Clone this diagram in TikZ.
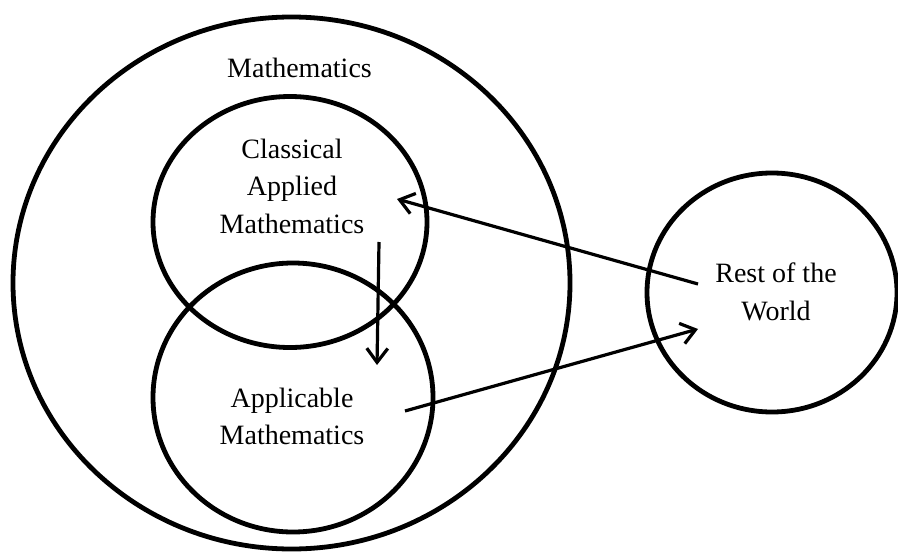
\documentclass[tikz,border=0pt]{standalone}
\usepackage{fontspec}
\setmainfont{Liberation Serif}
\usetikzlibrary{shapes.geometric,arrows.meta}
\begin{document}
\begin{tikzpicture}[x=0.5pt,y=-0.5pt,
  region/.style={draw,ellipse,line width=2.4pt,inner sep=0pt,outer sep=0pt},
  label/.style={align=center,inner sep=0pt,font=\fontsize{14}{18.75}\selectfont},
  flow/.style={line width=1.6pt,-{Straight Barb[length=7pt,width=10.5pt,line width=1.6pt]}}]
\useasboundingbox (0,0) rectangle (898,551);
\node[region,minimum width=278.5pt,minimum height=266pt] (math) at (291.5,283) {};
\node[region,minimum width=137pt,minimum height=125.5pt] (classical) at (290,222) {};
\node[region,minimum width=140pt,minimum height=134.5pt] (applicable) at (293,397.5) {};
\node[region,minimum width=125pt,minimum height=119.5pt] (world) at (772,292.5) {};
\node[label,anchor=base] (mathlbl) at (299.5,77) {Mathematics};
\node[label] (classlbl) at (292,186) {Classical\\Applied\\Mathematics};
\node[label] (applbl) at (292,416.5) {Applicable\\Mathematics};
\node[label] (worldlbl) at (776,292) {Rest of the\\World};
\coordinate (w1) at (698,284);
\coordinate (c1) at (397,199);
\coordinate (a1) at (405,411);
\coordinate (w2) at (698,329);
\coordinate (c2) at (379,242);
\coordinate (a2) at (377,365);
\draw[flow] (w1) -- (c1);
\draw[flow] (a1) -- (w2);
\draw[flow] (c2) -- (a2);
\end{tikzpicture}
\end{document}
